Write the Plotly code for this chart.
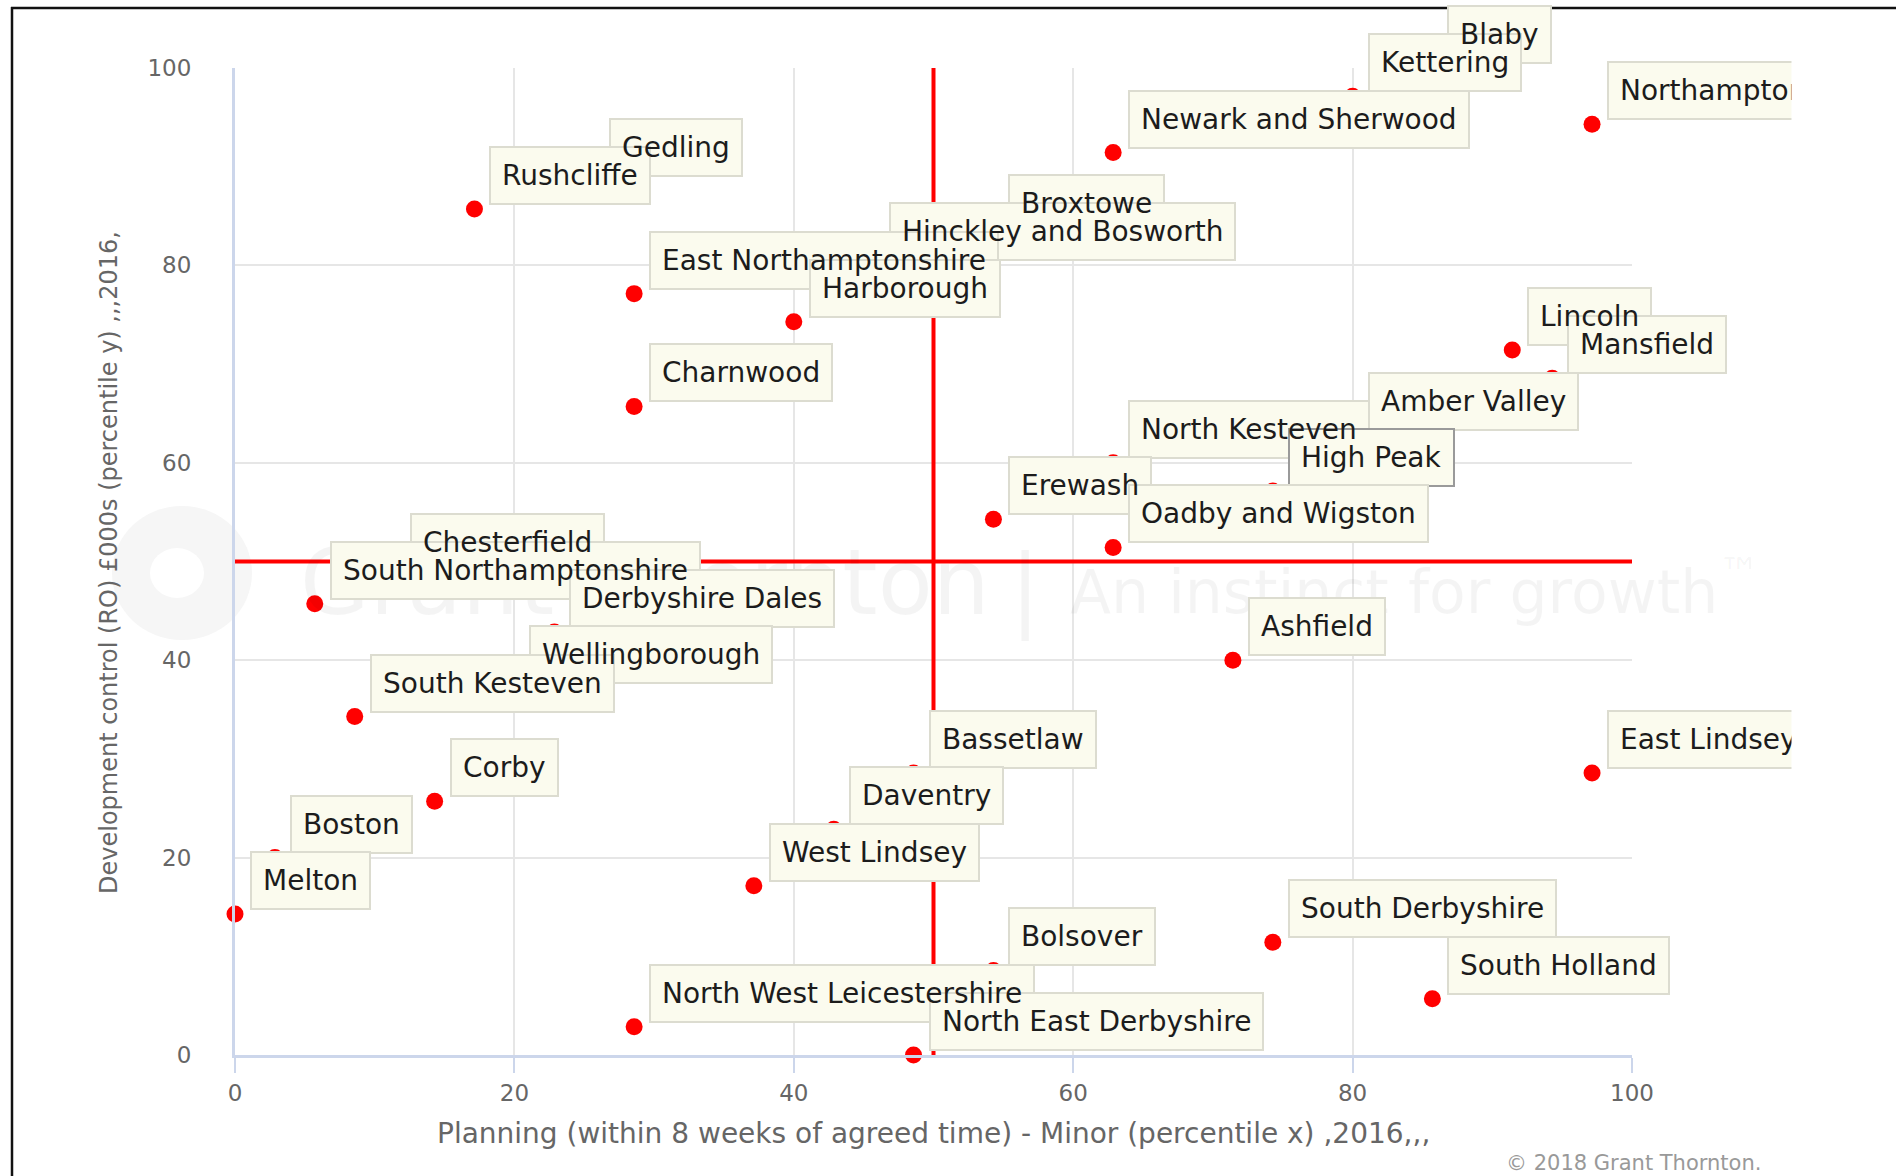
import plotly.graph_objects as go

# ---------------- data ----------------
names = ["Blaby", "Kettering", "Northampton", "Newark and Sherwood", "Gedling", "Rushcliffe",
         "Broxtowe", "Hinckley and Bosworth", "East Northamptonshire", "Harborough", "Lincoln",
         "Mansfield", "Charnwood", "Amber Valley", "North Kesteven", "High Peak", "Erewash",
         "Oadby and Wigston", "Chesterfield", "South Northamptonshire", "Derbyshire Dales",
         "Ashfield", "Wellingborough", "South Kesteven", "Bassetlaw", "East Lindsey", "Corby",
         "Daventry", "Boston", "West Lindsey", "Melton", "South Derbyshire", "Bolsover",
         "South Holland", "North West Leicestershire", "North East Derbyshire"]
x_pct = [85.71, 80.00, 97.14, 62.86, 25.71, 17.14,
         54.29, 45.71, 28.57, 40.00, 91.43,
         94.29, 28.57, 80.00, 62.86, 74.29, 54.29,
         62.86, 11.43, 5.71, 22.86,
         71.43, 20.00, 8.57, 48.57, 97.14, 14.29,
         42.86, 2.86, 37.14, 0.00, 74.29, 54.29,
         85.71, 28.57, 48.57]
y_pct = [100.00, 97.14, 94.29, 91.43, 88.57, 85.71,
         82.86, 80.00, 77.14, 74.29, 71.43,
         68.57, 65.71, 62.86, 60.00, 57.14, 54.29,
         51.43, 48.57, 45.71, 42.86,
         40.00, 37.14, 34.29, 28.57, 28.57, 25.71,
         22.86, 20.00, 17.14, 14.29, 11.43, 8.57,
         5.71, 2.86, 0.00]

x_ticks = [0, 20, 40, 60, 80, 100]
y_ticks = [0, 20, 40, 60, 80, 100]
x_threshold = 50
y_threshold = 50
x_title = "Planning (within 8 weeks of agreed time) - Minor (percentile x) ,2016,,,"
y_title = "Development control (RO) £000s (percentile y) ,,,2016,"
credit_text = "© 2018 Grant Thornton."
watermark_left = "Grant Thornton"
watermark_right = "An instinct for growth<sup>™</sup>"
highlighted = "High Peak"

# ---------------- layout helpers (screen pixel positions) ----------------
FIG_W, FIG_H = 1896, 1176
PLOT_L, PLOT_R, PLOT_T, PLOT_B = 235, 1632, 68, 1055   # plot area on screen
PW, PH = PLOT_R - PLOT_L, PLOT_B - PLOT_T


def px(xp):
    return (xp - PLOT_L) / PW


def py(yp):
    return (PLOT_B - yp) / PH


FONT = "DejaVu Sans"
GREY = "#666666"
AXIS = "#ccd6eb"
WM = "rgba(0,0,0,0.042)"

fig = go.Figure()
fig.add_trace(go.Scatter(
    x=x_pct, y=y_pct, mode="markers", text=names, hoverinfo="text",
    marker=dict(color="#ff0000", size=17, line=dict(width=0)),
    cliponaxis=False, showlegend=False))

shapes = []
# faint logo ring (background watermark)
shapes.append(dict(type="circle", xref="paper", yref="paper", layer="below",
                   x0=px(112), x1=px(252), y0=py(640), y1=py(506),
                   fillcolor="#f6f6f6", line=dict(width=0)))
shapes.append(dict(type="circle", xref="paper", yref="paper", layer="below",
                   x0=px(150), x1=px(204), y0=py(598), y1=py(548),
                   fillcolor="#ffffff", line=dict(width=0)))
# quadrant lines
shapes.append(dict(type="line", xref="x", yref="y", layer="between",
                   x0=x_threshold, x1=x_threshold, y0=0, y1=100,
                   line=dict(color="#ff0000", width=4)))
shapes.append(dict(type="line", xref="x", yref="y", layer="between",
                   x0=0, x1=100, y0=y_threshold, y1=y_threshold,
                   line=dict(color="#ff0000", width=4)))
# screenshot frame
shapes.append(dict(type="line", xref="paper", yref="paper",
                   x0=px(11), x1=px(FIG_W + 5), y0=py(8), y1=py(8),
                   line=dict(color="#111111", width=2.5)))
shapes.append(dict(type="line", xref="paper", yref="paper",
                   x0=px(12), x1=px(12), y0=py(7), y1=py(FIG_H + 5),
                   line=dict(color="#111111", width=2.5)))

annotations = []
# watermark text
annotations.append(dict(xref="paper", yref="paper", x=px(298), y=py(582), xanchor="left", yanchor="middle",
                        text=watermark_left, showarrow=False,
                        font=dict(family=FONT, size=90, color=WM)))
annotations.append(dict(xref="paper", yref="paper", x=px(1025), y=py(588), xanchor="center", yanchor="middle",
                        text="|", showarrow=False,
                        font=dict(family=FONT, size=90, color=WM)))
annotations.append(dict(xref="paper", yref="paper", x=px(1068), y=py(588), xanchor="left", yanchor="middle",
                        text=watermark_right, showarrow=False,
                        font=dict(family=FONT, size=60, color=WM)))

# axis titles and credit
annotations.append(dict(xref="paper", yref="paper", x=0.5, y=py(1133), xanchor="center", yanchor="middle",
                        text=x_title, showarrow=False, font=dict(family=FONT, size=28, color=GREY)))
annotations.append(dict(xref="paper", yref="paper", x=px(109), y=py(563), xanchor="center", yanchor="middle",
                        text=y_title, textangle=-90, showarrow=False,
                        font=dict(family=FONT, size=24, color=GREY)))
annotations.append(dict(xref="paper", yref="paper", x=px(1763), y=py(1163), xanchor="right", yanchor="middle",
                        text=credit_text, showarrow=False, font=dict(family=FONT, size=21, color="#999999")))

# data labels: all boxes first (lower points on top), then all texts above them
order = sorted(range(len(names)), key=lambda i: -y_pct[i])
label_common = dict(xref="x", yref="y", showarrow=False, xanchor="left", yanchor="bottom",
                    xshift=15, yshift=4, borderwidth=2, borderpad=11)
for i in order:
    annotations.append(dict(
        x=x_pct[i], y=y_pct[i], text=names[i],
        font=dict(family=FONT, size=28, color="rgba(0,0,0,0)"),
        bgcolor="#fbfbee",
        bordercolor="#9a9a9a" if names[i] == highlighted else "#dcdcd0",
        **label_common))
for i in order:
    annotations.append(dict(
        x=x_pct[i], y=y_pct[i], text=names[i],
        font=dict(family=FONT, size=28, color="#1c1c1c"),
        bgcolor="rgba(0,0,0,0)", bordercolor="rgba(0,0,0,0)",
        **label_common))

# chart container clips the overflowing labels on the right
annotations.append(dict(xref="paper", yref="paper", x=px(1791), y=py(11), xanchor="left", yanchor="top",
                        width=FIG_W - 1791 + 10, height=FIG_H, text=" ", showarrow=False,
                        bgcolor="#ffffff", borderpad=0))

fig.update_layout(
    width=FIG_W, height=FIG_H, autosize=False,
    margin=dict(l=PLOT_L, r=FIG_W - PLOT_R, t=PLOT_T, b=FIG_H - PLOT_B, pad=0),
    paper_bgcolor="#ffffff", plot_bgcolor="#ffffff",
    shapes=shapes, annotations=annotations,
    xaxis=dict(range=[0, 100], tickvals=x_ticks, showgrid=True, gridcolor="#e6e6e6", gridwidth=2,
               zeroline=False, showline=True, linecolor=AXIS, linewidth=3,
               ticks="outside", ticklen=15, tickwidth=2, tickcolor=AXIS,
               tickfont=dict(family=FONT, size=23, color=GREY), fixedrange=True),
    yaxis=dict(range=[0, 100], tickvals=y_ticks, showgrid=True, gridcolor="#e6e6e6", gridwidth=2,
               zeroline=False, showline=True, linecolor=AXIS, linewidth=3,
               ticks="", ticklabelstandoff=36,
               tickfont=dict(family=FONT, size=23, color=GREY), fixedrange=True),
    hovermode="closest",
)

# remove the default page margin so the figure fills the window exactly
fig.write_html("out.html", config={"displayModeBar": False},
               post_script="document.body.style.margin='0';document.body.style.overflow='hidden';")
